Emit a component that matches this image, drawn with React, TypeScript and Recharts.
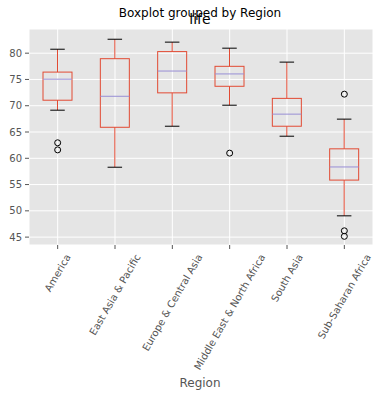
import React from 'react';
import { ComposedChart, Bar, Line, XAxis, YAxis, CartesianGrid } from 'recharts';

const regions = ['America', 'East Asia & Pacific', 'Europe & Central Asia', 'Middle East & North Africa', 'South Asia', 'Sub-Saharan Africa'];
const whiskerLow = [69.15, 58.3, 66.1, 70.1, 64.2, 49.05];
const q1 = [71.05, 65.9, 72.45, 73.7, 66.1, 55.85];
const median = [75.05, 71.8, 76.6, 76.05, 68.4, 58.35];
const q3 = [76.4, 78.95, 80.3, 77.5, 71.4, 61.8];
const whiskerHigh = [80.75, 82.65, 82.1, 80.95, 78.3, 67.45];
const outliers: number[][] = [[62.95, 61.6], [], [], [60.98], [], [72.2, 46.2, 45.15]];
const yTicks = [45, 50, 55, 60, 65, 70, 75, 80];
const yDomain = [43.5, 84.6];

const data = regions.map((r, i) => ({
  region: r,
  range: [whiskerLow[i], whiskerHigh[i]],
  q1: q1[i],
  med: median[i],
  q3: q3[i],
  o0: outliers[i][0] ?? null,
  o1: outliers[i][1] ?? null,
  o2: outliers[i][2] ?? null,
}));

const FONT = "'DejaVu Sans', sans-serif";
const RED = '#E24A33';
const PURPLE = '#988ED5';

let ctx: CanvasRenderingContext2D | null = null;
function measure(t: string, size: number) {
  if (!ctx) {
    const c = document.createElement('canvas');
    ctx = c.getContext('2d');
  }
  if (!ctx) return t.length * size * 0.55;
  ctx.font = `${size}px 'DejaVu Sans'`;
  return ctx.measureText(t).width;
}

const BoxShape = (props: any) => {
  const { x, y, width, height, payload } = props;
  if (x == null || y == null) return null;
  const lo = payload.range[0];
  const hi = payload.range[1];
  const top = Math.min(y, y + height);
  const h = Math.abs(height);
  const k = h / (hi - lo);
  const yOf = (v: number) => top + (hi - v) * k;
  const cx = x + width / 2;
  const capHalf = width / 4;
  const yq1 = yOf(payload.q1);
  const yq3 = yOf(payload.q3);
  const ym = yOf(payload.med);
  const yHi = yOf(hi);
  const yLo = yOf(lo);
  return (
    <g>
      <line x1={cx} x2={cx} y1={yHi} y2={yq3} stroke={RED} strokeWidth={1} />
      <line x1={cx} x2={cx} y1={yq1} y2={yLo} stroke={RED} strokeWidth={1} />
      <line x1={cx - capHalf} x2={cx + capHalf} y1={yHi} y2={yHi} stroke="#000" strokeWidth={1} />
      <line x1={cx - capHalf} x2={cx + capHalf} y1={yLo} y2={yLo} stroke="#000" strokeWidth={1} />
      <rect x={x} y={yq3} width={width} height={yq1 - yq3} fill="none" stroke={RED} strokeWidth={1} />
      <line x1={x} x2={x + width} y1={ym} y2={ym} stroke={PURPLE} strokeWidth={1} />
    </g>
  );
};

const OutlierDot = (props: any) => {
  const { cx, cy, value, index } = props;
  if (value == null || cx == null || cy == null || isNaN(cy)) return <g key={`e${index}`} />;
  return <circle key={`c${index}`} cx={cx} cy={cy} r={3} fill="none" stroke="#000" strokeWidth={1} />;
};

const XTick = (props: any) => {
  const { x, y, payload } = props;
  const t = String(payload.value);
  const w = measure(t, 10);
  const h = 11.6;
  const a = (60 * Math.PI) / 180;
  const Hb = w * Math.sin(a) + h * Math.cos(a);
  const top = y + 1;
  const cy = top + Hb / 2;
  return (
    <text
      x={x}
      y={cy}
      dy="0.35em"
      textAnchor="middle"
      fontSize={10}
      fontFamily={FONT}
      fill="#555555"
      transform={`rotate(-60 ${x} ${cy})`}
    >
      {t}
    </text>
  );
};

export default function App() {
  return (
    <div style={{ position: 'absolute', left: 0, top: 0, width: 379, height: 396, background: '#fff' }}>
      <ComposedChart
        width={379}
        height={396}
        data={data}
        margin={{ top: 29, right: 6, left: 0, bottom: 0 }}
        barCategoryGap={0}
      >
        <CartesianGrid fill="#E5E5E5" stroke="#FFFFFF" strokeWidth={1} />
        <XAxis
          dataKey="region"
          type="category"
          height={151}
          interval={0}
          axisLine={false}
          tickLine={{ stroke: '#555555' }}
          tickSize={4}
          tickMargin={2}
          tick={<XTick />}
        />
        <YAxis
          type="number"
          domain={yDomain}
          ticks={yTicks}
          width={29}
          allowDataOverflow
          axisLine={false}
          tickLine={{ stroke: '#555555' }}
          tickSize={4}
          tickMargin={3}
          tick={{ fontSize: 10, fontFamily: FONT, fill: '#555555' }}
        />
        <Bar dataKey="range" barSize={29} shape={<BoxShape />} isAnimationActive={false} />
        <Line dataKey="o0" stroke="none" dot={<OutlierDot />} activeDot={false} isAnimationActive={false} />
        <Line dataKey="o1" stroke="none" dot={<OutlierDot />} activeDot={false} isAnimationActive={false} />
        <Line dataKey="o2" stroke="none" dot={<OutlierDot />} activeDot={false} isAnimationActive={false} />
      </ComposedChart>
      <svg width={379} height={396} style={{ position: 'absolute', left: 0, top: 0, pointerEvents: 'none' }}>
        <text x={200} y={17} textAnchor="middle" fontSize={12} fontFamily={FONT} fill="#000">Boxplot grouped by Region</text>
        <text x={200} y={24} textAnchor="middle" fontSize={14} fontFamily={FONT} fill="#000">life</text>
        <text x={200} y={387} textAnchor="middle" fontSize={12} fontFamily={FONT} fill="#555555">Region</text>
      </svg>
    </div>
  );
}
